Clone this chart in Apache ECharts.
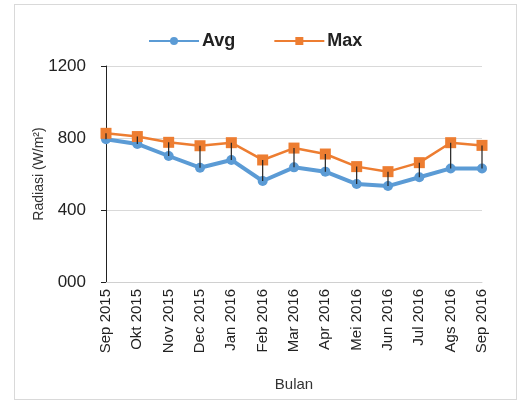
<!DOCTYPE html>
<html>
<head>
<meta charset="utf-8">
<script src="https://cdn.jsdelivr.net/npm/echarts@6/dist/echarts.min.js"></script>
<style>
  html, body { margin: 0; padding: 0; background: #fff; }
  #frame { position: absolute; left: 14px; top: 4px; width: 503px; height: 396px; border: 1px solid #d9d9d9; box-sizing: border-box; }
  #chart { width: 527px; height: 409px; position: absolute; left: 0; top: 0; }
</style>
</head>
<body>
<div id="frame"></div>
<div id="chart"></div>
<script>
// Monthly solar radiation, Sep 2015 - Sep 2016
const months = ['Sep 2015', 'Okt 2015', 'Nov 2015', 'Dec 2015', 'Jan 2016', 'Feb 2016', 'Mar 2016',
  'Apr 2016', 'Mei 2016', 'Jun 2016', 'Jul 2016', 'Ags 2016', 'Sep 2016'];
const avgValues = [793, 767, 700, 635, 678, 561, 637, 613, 544, 533, 582, 631, 631];
const maxValues = [826, 808, 776, 757, 774, 678, 744, 711, 641, 613, 663, 774, 759];
const yTicks = [0, 400, 800, 1200];

const chart = echarts.init(document.getElementById('chart'), null, { renderer: 'canvas' });

// vertical bars linking each monthly average to its maximum
const spans = months.map((m, i) => [i, avgValues[i], maxValues[i]]);

chart.setOption({
  animation: false,
  textStyle: { fontFamily: 'Liberation Sans, Arial, sans-serif' },
  legend: {
    top: 27,
    left: 143,
    itemGap: 38,
    itemWidth: 50,
    itemHeight: 10,
    textStyle: { fontSize: 18, fontWeight: 'bold', color: '#222', padding: [0, 0, 0, -2] },
    data: ['Avg', 'Max']
  },
  grid: { left: 106, right: 45, top: 66, bottom: 127 },
  xAxis: {
    type: 'category',
    data: months,
    boundaryGap: false,
    name: 'Bulan',
    nameLocation: 'middle',
    nameGap: 95,
    nameMoveOverlap: false,
    nameTextStyle: { fontSize: 15, color: '#333' },
    axisLine: { lineStyle: { color: '#d0d0d0' } },
    axisTick: { show: false },
    axisLabel: { rotate: 90, fontSize: 15, color: '#222', margin: 7 }
  },
  yAxis: {
    type: 'value',
    min: 0,
    max: 1200,
    interval: 400,
    name: 'Radiasi (W/m²)',
    nameLocation: 'middle',
    nameGap: 60,
    nameMoveOverlap: false,
    nameTextStyle: { fontSize: 14, color: '#333' },
    axisLine: { show: true, lineStyle: { color: '#222', width: 1 } },
    axisTick: { show: true, inside: false, length: 5, lineStyle: { color: '#222' } },
    axisLabel: {
      fontSize: 17, color: '#222', margin: 20,
      formatter: v => yTicks.includes(v) ? (v === 0 ? '000' : String(v)) : ''
    },
    splitLine: { lineStyle: { color: '#d9d9d9' } }
  },
  series: [
    {
      name: 'Avg',
      type: 'line',
      data: avgValues,
      symbol: 'circle',
      symbolSize: 10,
      itemStyle: { color: '#5B9BD5' },
      lineStyle: { color: '#5B9BD5', width: 4 },
      z: 3
    },
    {
      name: 'Max',
      type: 'line',
      data: maxValues,
      symbol: 'rect',
      symbolSize: 11,
      itemStyle: { color: '#ED7D31' },
      lineStyle: { color: '#ED7D31', width: 2.5 },
      z: 4
    },
    {
      name: 'span',
      type: 'custom',
      data: spans,
      z: 5,
      renderItem: (params, api) => {
        const top = api.coord([api.value(0), api.value(2)]);
        const bottom = api.coord([api.value(0), api.value(1)]);
        return {
          type: 'line',
          shape: { x1: top[0], y1: top[1], x2: bottom[0], y2: bottom[1] },
          style: { stroke: '#222', lineWidth: 1.2 }
        };
      }
    }
  ]
});
</script>
</body>
</html>
